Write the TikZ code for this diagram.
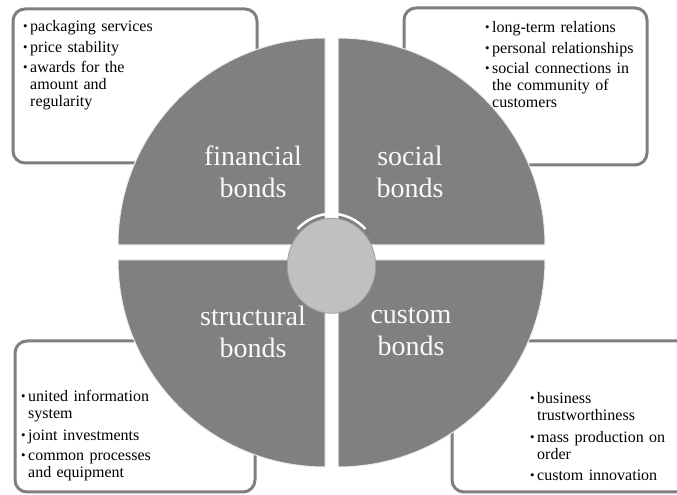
\documentclass[tikz,border=0pt]{standalone}
\usepackage{fontspec}
\setmainfont{Liberation Serif}
\usetikzlibrary{shapes.geometric}
\definecolor{quad}{HTML}{808080}
\definecolor{hub}{HTML}{C0C0C0}
\definecolor{framegray}{HTML}{7F7F7F}
\newcommand\bul[1]{\par\noindent\makebox[7pt][l]{\raisebox{1pt}{\scalebox{0.8}{\textbullet}}}\begin{tabular}[t]{@{}l@{}}#1\end{tabular}}
\tikzset{
 infobox/.style={draw=framegray, line width=3pt, fill=white, rounded corners=12pt},
 quadrant/.style={fill=quad, draw=white!85!gray, line width=1pt},
 listtext/.style={anchor=north west, text width=200pt, inner sep=0pt,
   font=\fontsize{16}{17}\selectfont\setlength{\parskip}{3.5pt}},
 biglabel/.style={text=white!95!gray, align=center, inner sep=0pt, font=\fontsize{28}{32}\selectfont}
}
\begin{document}
\begin{tikzpicture}[x=1pt,y=1pt]
\useasboundingbox (0,0) rectangle (677,495);
\clip (0,0) rectangle (677,495);
% boxes
\draw[infobox] (13,332) rectangle (257,486);
\draw[infobox] (404,330) rectangle (647,487);
\draw[infobox] (15,3) rectangle (255,154);
\draw[infobox] (452,3) rectangle (700,154);
% list texts
\node[listtext] (tl) at (23,484) {\bul{packaging services}\bul{price stability}\bul{awards for the\\amount and\\regularity}};
\node[listtext] (tr) at (485,483) {\bul{long-term relations}\bul{personal relationships}\bul{social connections in\\the community of\\customers}};
\node[listtext] (bl) at (21,114) {\bul{united information\\system}\bul{joint investments}\bul{common processes\\and equipment}};
\node[listtext] (br) at (530,112) {\bul{business\\trustworthiness}\bul{mass production on\\order}\bul{custom innovation}};
% quadrants
\draw[quadrant] (325,250) -- ++(-207,0) arc[start angle=180, end angle=90, radius=207] -- cycle;
\draw[quadrant] (338,250) -- ++(0,207) arc[start angle=90, end angle=0, radius=207] -- cycle;
\draw[quadrant] (325,235) -- ++(0,-207) arc[start angle=270, end angle=180, radius=207] -- cycle;
\draw[quadrant] (338,235) -- ++(207,0) arc[start angle=360, end angle=270, radius=207] -- cycle;
% hub
\draw[white, line width=2.5pt] (331.5,229.2) ++(45:48 and 52) arc[start angle=45, end angle=135, x radius=48, y radius=52];
\node[ellipse, fill=hub, draw=gray!75, line width=0.8pt, minimum width=88.4pt, minimum height=95pt, inner sep=0pt] (hub) at (331.5,229.2) {};
% labels
\node[biglabel] (fin) at (253,323) {financial\\bonds};
\node[biglabel] (soc) at (410,323) {social\\bonds};
\node[biglabel] (str) at (253,163) {structural\\bonds};
\node[biglabel] (cus) at (411,163) {custom\\bonds};
\end{tikzpicture}
\end{document}
